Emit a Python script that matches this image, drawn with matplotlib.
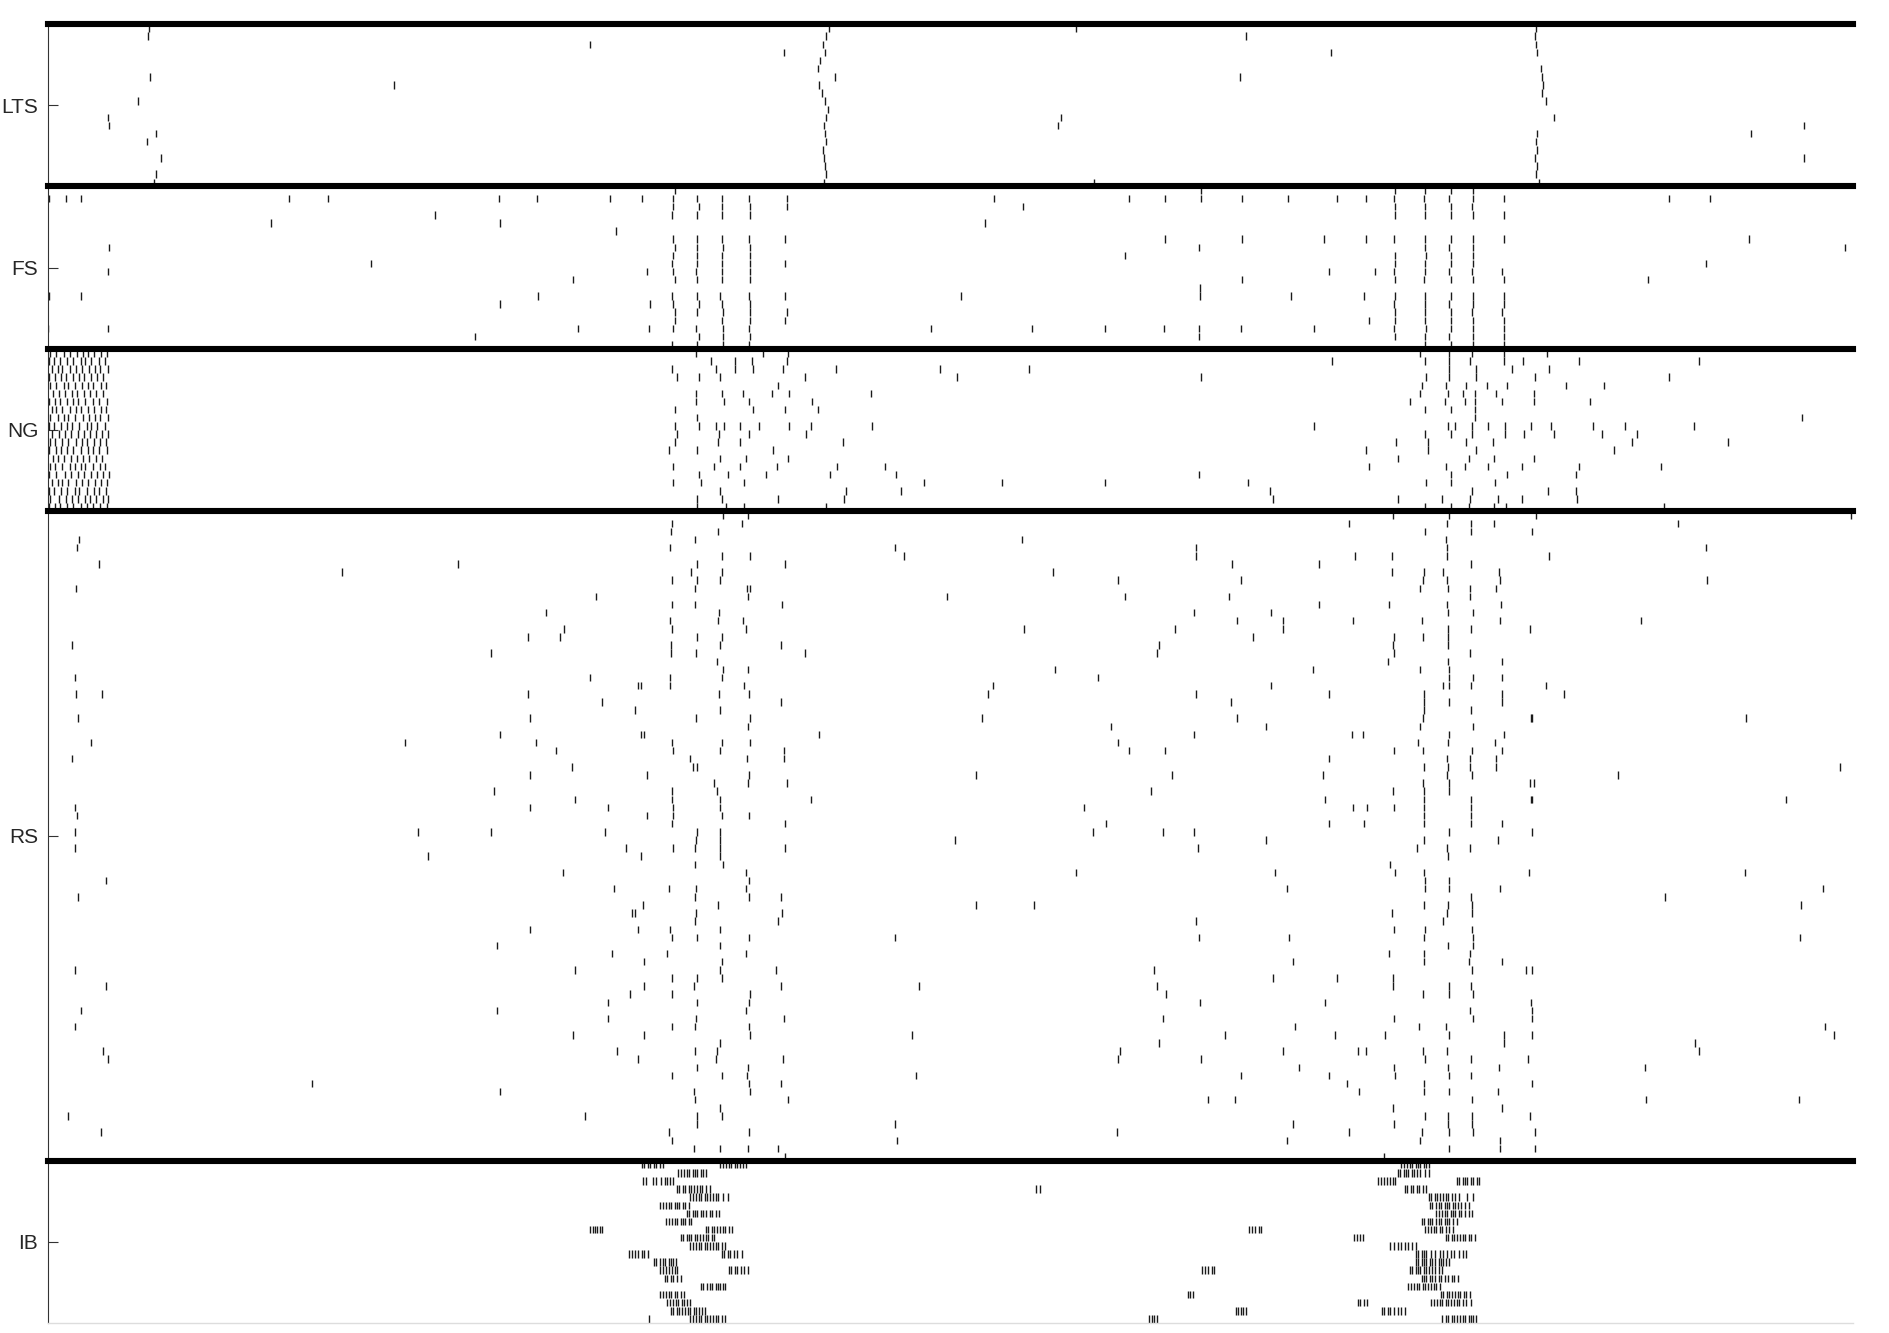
import numpy as np
import matplotlib
matplotlib.use('Agg')
import matplotlib.pyplot as plt

plt.rcParams['font.family'] = ['Liberation Sans', 'DejaVu Sans']

# populations, top to bottom, and their cell counts
GROUPS = ['LTS', 'FS', 'NG', 'RS', 'IB']
SIZES = [20, 20, 20, 80, 20]
T_END = 1498

# spikes as (time, cell) pairs
LTS_SPIKES = [
    (84, 0), (83, 1), (85, 6), (75, 9), (50, 11), (51, 12), (90, 13), (82, 14), (94, 16), (90, 18), (88, 19),
    (287, 7), (450, 2), (611, 3),
    (648, 0), (646, 1), (643, 2), (645, 3), (641, 4), (639, 5), (653, 6), (640, 7), (642, 8), (645, 9),
    (647, 10), (646, 11), (644, 12), (645, 13), (646, 14), (643, 15), (644, 16), (645, 17), (646, 18), (644, 19),
    (853, 0), (868, 19), (841, 11), (838, 12), (994, 1), (989, 6), (1065, 3),
    (1235, 0), (1234, 1), (1235, 2), (1236, 3), (1239, 5), (1240, 6), (1241, 7), (1240, 8), (1243, 9),
    (1250, 11), (1236, 13), (1235, 14), (1236, 15), (1234, 16), (1236, 17), (1235, 18), (1237, 19),
    (1413, 13), (1457, 12), (1457, 16),
]

FS_SPIKES = [
    (1, 1), (1, 13), (0, 17), (15, 1), (27, 1), (27, 13), (51, 7), (50, 10), (50, 17), (185, 4), (200, 1),
    (232, 1), (268, 9), (321, 3), (354, 18), (374, 1), (375, 4), (375, 14), (406, 1), (407, 13), (436, 11),
    (440, 17), (466, 1), (493, 1), (471, 5), (497, 10), (500, 14), (499, 17),
    # first volley
    (520, 0), (519, 1), (519, 2), (518, 3), (519, 6), (520, 7), (519, 8), (518, 9), (519, 10), (520, 11),
    (518, 13), (519, 14), (520, 15), (520, 16), (519, 17), (518, 19),
    (539, 1), (540, 2), (539, 3), (539, 6), (539, 7), (539, 8), (539, 9), (538, 10), (539, 11), (539, 13),
    (540, 14), (539, 15), (538, 17), (540, 18), (539, 19),
    (559, 1), (559, 2), (559, 3), (559, 6), (560, 7), (559, 8), (559, 9), (559, 10), (559, 11), (558, 13),
    (559, 14), (560, 15), (559, 16), (560, 17), (560, 18), (560, 19),
    (582, 1), (583, 2), (583, 3), (582, 6), (583, 7), (583, 8), (583, 9), (583, 10), (583, 11), (582, 13),
    (583, 14), (583, 15), (583, 16), (582, 17), (583, 18), (582, 19),
    (613, 1), (613, 2), (612, 6), (612, 9), (612, 13), (613, 15), (612, 16),
    # between volleys
    (778, 4), (785, 1), (809, 2), (758, 13), (733, 17), (817, 17), (877, 17), (897, 1), (894, 8), (927, 1),
    (927, 6), (926, 17), (957, 0), (957, 1), (955, 7), (956, 12), (956, 13), (955, 17), (955, 18), (991, 1),
    (991, 6), (991, 11), (990, 17), (1029, 1), (1032, 13), (1059, 6), (1063, 10), (1070, 1), (1051, 17),
    (1094, 1), (1094, 6), (1092, 13), (1096, 16), (1101, 10),
    # second volley
    (1118, 0), (1117, 1), (1118, 2), (1118, 3), (1117, 6), (1118, 8), (1118, 9), (1117, 10), (1118, 11),
    (1118, 13), (1117, 14), (1118, 15), (1118, 16), (1117, 17), (1118, 18),
    (1143, 0), (1142, 1), (1143, 2), (1143, 3), (1143, 6), (1143, 7), (1144, 8), (1143, 9), (1143, 10),
    (1142, 11), (1143, 13), (1143, 14), (1143, 15), (1143, 16), (1144, 17), (1143, 18), (1143, 19),
    (1164, 0), (1163, 1), (1164, 2), (1164, 3), (1164, 6), (1163, 7), (1164, 8), (1164, 9), (1163, 10),
    (1164, 11), (1164, 13), (1163, 14), (1164, 15), (1164, 16), (1164, 17), (1163, 18), (1164, 19),
    (1183, 0), (1183, 1), (1182, 2), (1183, 3), (1183, 6), (1183, 7), (1183, 8), (1183, 9), (1182, 10),
    (1183, 11), (1183, 13), (1183, 14), (1182, 15), (1183, 16), (1183, 17), (1183, 18), (1183, 19),
    (1208, 1), (1208, 3), (1208, 6), (1207, 10), (1208, 11), (1208, 13), (1208, 14), (1207, 15), (1208, 16),
    (1208, 17), (1208, 18), (1208, 19),
    # late
    (1345, 1), (1379, 1), (1376, 9), (1412, 6), (1328, 11), (1491, 7),
]

# NG onset: dense firing of every cell at the start, one list per cell
NG_ONSET = [
    [2, 7, 13, 18, 24, 29, 33, 38, 44, 49],
    [1, 5, 10, 16, 21, 27, 31, 36, 42, 47],
    [3, 8, 12, 18, 23, 28, 34, 39, 43, 50],
    [1, 6, 11, 15, 21, 26, 30, 36, 41, 46],
    [2, 7, 13, 17, 22, 28, 33, 37, 44, 48],
    [4, 9, 14, 20, 24, 30, 35, 40, 46],
    [1, 6, 10, 16, 21, 25, 31, 37, 42, 49],
    [3, 7, 12, 18, 23, 27, 33, 38, 44, 48],
    [2, 8, 13, 17, 22, 29, 34, 39, 43, 50],
    [1, 5, 11, 16, 20, 26, 32, 36, 41, 47],
    [3, 9, 14, 19, 25, 30, 35, 40, 45, 50],
    [2, 6, 12, 17, 23, 28, 32, 38, 43, 48],
    [1, 7, 11, 16, 21, 27, 33, 37, 42, 49],
    [4, 8, 13, 19, 24, 29, 34, 40, 45],
    [2, 6, 12, 18, 22, 27, 31, 37, 43, 47],
    [1, 7, 14, 19, 25, 30, 36, 41, 46, 51],
    [3, 8, 12, 17, 23, 28, 33, 39, 44, 49],
    [1, 5, 11, 16, 22, 26, 32, 38, 42, 48],
    [2, 9, 15, 20, 25, 31, 35, 40, 46, 50],
    [1, 6, 10, 16, 21, 27, 32, 37, 43, 49],
]

NG_SPIKES = [
    (538, 0), (550, 1), (570, 1), (584, 1), (593, 0), (613, 1), (614, 0),
    (518, 2), (522, 3), (540, 3), (554, 2), (558, 3), (570, 2), (585, 2), (610, 2), (628, 3), (654, 2),
    (606, 4), (538, 5), (538, 6), (559, 5), (561, 6), (577, 5), (582, 6), (601, 5), (615, 5), (634, 6),
    (585, 7), (520, 7), (612, 7), (639, 7), (539, 8),
    (520, 9), (540, 9), (554, 9), (561, 9), (574, 9), (590, 9), (615, 9), (633, 9),
    (522, 10), (557, 10), (582, 10), (629, 10), (520, 11), (556, 11), (574, 11),
    (515, 12), (539, 12), (602, 12), (558, 13), (579, 13), (614, 13),
    (519, 14), (553, 14), (574, 14), (605, 14), (655, 14), (540, 15), (564, 15), (596, 15), (649, 15),
    (519, 16), (542, 16), (578, 16), (558, 17), (539, 18), (559, 18), (606, 18),
    (563, 19), (578, 19), (646, 19), (539, 19),
    (740, 2), (814, 2), (754, 3), (683, 5), (684, 9), (660, 11), (695, 14), (704, 15), (727, 16),
    (792, 16), (877, 16), (662, 17), (708, 17), (661, 18),
    (957, 3), (955, 15), (996, 16), (1014, 17), (1017, 18), (1051, 9), (1066, 1),
    (1094, 12), (1096, 14),
    (1139, 0), (1163, 0), (1182, 0), (1143, 1), (1163, 1), (1163, 2), (1163, 3), (1180, 1), (1185, 2),
    (1144, 3), (1185, 3), (1140, 4), (1160, 4), (1177, 4), (1139, 5), (1162, 5), (1174, 5), (1184, 5),
    (1130, 6), (1159, 6), (1176, 6), (1184, 6), (1143, 7), (1164, 7), (1184, 7), (1184, 8),
    (1162, 9), (1168, 9), (1182, 9), (1143, 10), (1164, 10), (1182, 10), (1119, 11), (1145, 11),
    (1145, 12), (1177, 11), (1185, 12), (1120, 13), (1179, 13), (1160, 14), (1176, 14),
    (1164, 15), (1144, 16), (1164, 16), (1182, 17), (1120, 18), (1157, 18), (1180, 18),
    (1143, 19), (1164, 19), (1179, 19),
    (1208, 0), (1244, 0), (1208, 1), (1224, 1), (1271, 1), (1370, 1), (1215, 2), (1246, 2), (1234, 3),
    (1345, 3), (1194, 4), (1211, 4), (1260, 4), (1291, 4), (1202, 5), (1233, 5), (1207, 6), (1233, 6),
    (1280, 6), (1456, 8), (1195, 9), (1209, 9), (1231, 9), (1247, 9), (1282, 9), (1309, 9), (1366, 9),
    (1209, 10), (1225, 10), (1250, 10), (1290, 10), (1319, 10), (1199, 11), (1315, 11), (1394, 11),
    (1300, 12), (1200, 13), (1233, 13), (1195, 14), (1223, 14), (1271, 14), (1339, 14), (1211, 15),
    (1268, 15), (1201, 16), (1245, 17), (1268, 17), (1203, 18), (1223, 18), (1269, 18), (1200, 19),
    (1210, 19), (1341, 19),
]

RS_SPIKES = [
    (26, 3), (24, 4), (42, 6), (23, 9), (20, 16), (22, 20), (23, 22), (45, 22), (25, 25), (36, 28), (20, 30),
    (22, 36), (24, 37), (22, 39), (22, 41), (48, 45), (25, 47), (22, 56), (48, 58), (27, 61), (22, 63),
    (46, 66), (50, 67), (17, 74), (44, 76),
    (244, 7), (340, 6), (219, 70), (296, 28), (307, 39), (315, 42), (368, 17), (370, 34), (368, 39),
    (373, 53), (373, 61), (375, 71), (375, 27),
    (398, 15), (398, 22), (400, 25), (405, 28), (400, 32), (400, 36), (400, 51), (413, 12), (422, 29),
    (425, 15), (428, 14), (427, 44), (435, 31), (437, 35), (437, 56), (436, 64), (446, 74), (450, 20),
    (455, 10), (460, 23), (462, 39), (465, 36), (465, 60), (465, 62), (470, 46), (468, 54), (472, 66),
    (480, 41), (485, 49), (483, 59), (490, 21), (490, 51), (492, 27), (492, 42),
    # first volley
    (518, 1), (517, 2), (556, 2), (576, 1), (581, 0), (560, 0), (537, 3), (516, 4), (559, 5), (583, 5),
    (539, 6), (612, 6), (534, 7), (559, 7), (518, 8), (539, 8), (558, 8), (537, 9), (580, 9), (583, 9),
    (581, 10), (518, 11), (537, 11), (609, 11), (557, 12), (516, 13), (556, 13), (577, 13), (518, 14),
    (579, 14), (539, 15), (559, 15), (517, 16), (558, 16), (608, 16), (517, 17), (538, 17), (555, 18),
    (560, 19), (581, 19), (516, 20), (559, 20), (492, 21), (516, 21), (578, 21), (557, 22), (582, 22),
    (608, 23), (487, 24), (558, 24), (538, 25), (583, 25), (581, 26), (495, 27), (518, 28), (559, 28),
    (583, 28), (611, 29), (519, 29), (558, 29), (533, 30), (580, 30), (611, 30), (539, 31), (535, 31),
    (497, 32), (582, 32), (581, 33), (613, 33), (553, 33), (555, 34), (518, 34), (518, 35), (558, 35),
    (519, 36), (558, 36), (497, 37), (519, 37), (559, 37), (582, 37), (518, 38), (612, 38), (539, 39),
    (558, 39), (538, 40), (558, 40), (519, 41), (537, 41), (558, 41), (612, 41), (558, 42), (537, 43),
    (560, 43), (579, 44), (582, 45), (515, 46), (538, 46), (579, 46), (537, 47), (582, 47), (608, 47),
    (494, 48), (556, 48), (487, 49), (538, 49), (609, 49), (537, 50), (606, 50), (516, 51), (558, 51),
    (518, 52), (539, 52), (558, 53), (582, 52), (514, 54), (579, 54), (495, 55), (559, 55), (558, 56),
    (604, 56), (518, 57), (539, 57), (559, 57), (495, 58), (536, 58), (608, 58), (518, 59), (583, 59),
    (539, 60), (582, 60), (579, 61), (538, 62), (611, 62), (518, 63), (537, 63), (582, 63), (495, 64),
    (583, 64), (558, 65), (537, 66), (555, 66), (490, 67), (554, 67), (610, 67), (539, 68), (581, 68),
    (518, 69), (559, 69), (580, 69), (582, 70), (608, 70), (536, 71), (583, 71), (537, 72), (614, 72),
    (558, 73), (539, 74), (559, 74), (539, 75), (515, 76), (582, 76), (518, 77), (536, 78), (558, 78),
    (581, 78), (606, 78), (612, 79),
    # between volleys
    (628, 17), (640, 27), (633, 35), (703, 4), (710, 5), (746, 10), (770, 32), (780, 22), (784, 21),
    (775, 25), (753, 40), (770, 48), (703, 52), (723, 58), (717, 64), (720, 69), (703, 75), (705, 77),
    (808, 3), (810, 14), (818, 48), (834, 7), (836, 19), (853, 44), (860, 36), (867, 39), (871, 20),
    (878, 38), (882, 26), (888, 28), (888, 8), (894, 10), (897, 29), (920, 17), (922, 16), (915, 34),
    (918, 56), (920, 58), (925, 39), (928, 59), (925, 62), (890, 66), (888, 67), (887, 76), (922, 65),
    (927, 29), (933, 32), (935, 14), (953, 5), (953, 4), (951, 12), (953, 22), (951, 27), (951, 39),
    (954, 41), (953, 50), (955, 52), (956, 60), (957, 67), (963, 72), (983, 6), (990, 8), (982, 23),
    (987, 25), (1011, 26), (987, 13), (980, 10), (1000, 15), (1015, 12), (1025, 13), (1025, 14),
    (1015, 21), (1018, 44), (1028, 46), (1011, 40), (1017, 57), (1030, 52), (1033, 55), (1035, 63),
    (1025, 66), (1038, 68), (990, 69), (977, 64), (985, 72), (1033, 75), (1028, 77), (1055, 6),
    (1055, 11), (1050, 19), (1063, 22), (1058, 32), (1060, 35), (1063, 30), (1063, 38), (1080, 1),
    (1085, 5), (1083, 13), (1082, 27), (1083, 36), (1095, 36), (1092, 38), (1091, 27), (1094, 66),
    (1087, 66), (1078, 70), (1088, 71), (1080, 76), (1068, 64), (1063, 69), (1070, 57), (1060, 60),
    # second volley
    (1116, 0), (1163, 0), (1235, 0), (1200, 1), (1161, 1), (1181, 1), (1143, 2), (1181, 2), (1160, 3),
    (1161, 4), (1115, 5), (1161, 5), (1181, 6), (1115, 7), (1142, 7), (1158, 7), (1204, 7), (1141, 8),
    (1161, 8), (1205, 8), (1139, 9), (1162, 9), (1180, 9), (1202, 9), (1180, 10), (1113, 11), (1161, 11),
    (1206, 11), (1162, 12), (1183, 12), (1140, 13), (1205, 13), (1162, 14), (1181, 14), (1117, 15),
    (1141, 15), (1162, 15), (1116, 16), (1162, 16), (1117, 17), (1180, 17), (1112, 18), (1162, 18),
    (1207, 18), (1139, 19), (1163, 19), (1163, 20), (1183, 20), (1207, 20), (1158, 21), (1163, 21),
    (1181, 21), (1142, 22), (1207, 22), (1163, 23), (1142, 23), (1207, 23), (1181, 24), (1142, 24),
    (1141, 25), (1231, 25), (1139, 26), (1183, 26), (1163, 27), (1208, 27), (1137, 28), (1162, 28),
    (1201, 28), (1117, 29), (1141, 29), (1182, 29), (1207, 29), (1161, 30), (1180, 30), (1202, 30),
    (1142, 31), (1162, 31), (1180, 31), (1202, 31), (1161, 32), (1182, 32), (1141, 33), (1163, 33),
    (1233, 33), (1116, 34), (1142, 34), (1163, 34), (1142, 35), (1181, 35), (1231, 35), (1117, 36),
    (1142, 36), (1181, 36), (1142, 37), (1181, 37), (1142, 38), (1181, 38), (1207, 38), (1163, 39),
    (1142, 40), (1203, 40), (1136, 41), (1161, 41), (1180, 41), (1162, 42), (1114, 43), (1118, 44),
    (1142, 44), (1229, 44), (1143, 45), (1163, 45), (1143, 46), (1205, 46), (1163, 46), (1181, 47),
    (1142, 48), (1182, 48), (1162, 48), (1115, 49), (1182, 49), (1161, 49), (1158, 50), (1117, 51),
    (1143, 51), (1182, 51), (1142, 52), (1183, 52), (1162, 53), (1183, 53), (1113, 54), (1142, 54),
    (1180, 54), (1142, 55), (1179, 55), (1207, 55), (1182, 56), (1227, 56), (1116, 57), (1116, 58),
    (1163, 58), (1181, 58), (1141, 59), (1163, 59), (1183, 59), (1231, 60), (1180, 61), (1183, 62),
    (1117, 62), (1232, 62), (1138, 63), (1160, 63), (1110, 64), (1163, 64), (1208, 64), (1208, 65),
    (1141, 66), (1161, 66), (1143, 67), (1181, 67), (1228, 67), (1117, 68), (1162, 68), (1204, 68),
    (1118, 69), (1163, 69), (1181, 69), (1142, 70), (1163, 71), (1203, 71), (1142, 71), (1182, 72),
    (1207, 73), (1116, 73), (1143, 74), (1162, 74), (1182, 74), (1230, 74), (1117, 75), (1162, 75),
    (1182, 75), (1140, 76), (1163, 76), (1183, 76), (1139, 77), (1205, 77), (1163, 78), (1205, 78),
    (1234, 78), (1109, 79),
    # late
    (1232, 2), (1246, 5), (1230, 14), (1232, 25), (1230, 33), (1232, 35), (1232, 39), (1232, 56),
    (1232, 61), (1232, 64), (1232, 70), (1234, 76), (1243, 21), (1258, 22), (1303, 32), (1322, 13),
    (1325, 68), (1326, 72), (1342, 47), (1353, 1), (1367, 65), (1370, 66), (1376, 4), (1377, 8),
    (1409, 25), (1408, 44), (1442, 35), (1455, 48), (1454, 52), (1453, 72), (1473, 46), (1487, 31),
    (1475, 63), (1482, 64), (1496, 0),
]

# IB bursts, one list of spike times per cell
IB_TRAINS = [
    [493, 495, 498, 500, 503, 505, 508, 510, 558, 560, 563, 565, 567, 570, 572, 574, 577, 579,
     1123, 1125, 1128, 1130, 1132, 1135, 1137, 1139, 1142, 1144, 1146],
    [523, 525, 528, 530, 532, 535, 537, 539, 542, 544, 546,
     1120, 1122, 1125, 1127, 1129, 1132, 1134, 1136, 1139, 1143, 1146],
    [494, 496, 502, 505, 509, 512, 514, 516, 519, 1104, 1106, 1109, 1111, 1114, 1116, 1118,
     1169, 1171, 1174, 1176, 1178, 1181, 1183, 1186, 1188],
    [522, 524, 527, 529, 532, 534, 536, 539, 541, 543, 546, 549, 820, 823,
     1126, 1128, 1131, 1133, 1136, 1138, 1141, 1144],
    [533, 535, 538, 540, 542, 545, 547, 549, 552, 554, 556, 560, 564,
     1146, 1148, 1151, 1153, 1155, 1158, 1160, 1162, 1165, 1168, 1171, 1178, 1183],
    [508, 510, 513, 515, 517, 520, 522, 524, 527, 529, 532,
     1147, 1149, 1152, 1154, 1156, 1159, 1161, 1163, 1166, 1168, 1170, 1173, 1176, 1179],
    [530, 532, 535, 537, 539, 542, 544, 546, 549, 551, 554, 557,
     1152, 1154, 1157, 1159, 1161, 1164, 1166, 1168, 1171, 1173, 1176, 1179, 1182],
    [513, 515, 518, 520, 522, 525, 527, 529, 532, 534,
     1140, 1142, 1145, 1147, 1149, 1152, 1154, 1156, 1159, 1161, 1163, 1166, 1169],
    [450, 452, 454, 456, 458, 460, 546, 548, 551, 553, 555, 558, 560, 562, 565, 568,
     997, 999, 1002, 1005, 1007, 1143, 1145, 1148, 1150, 1152, 1155, 1157, 1160, 1163, 1166],
    [525, 527, 530, 532, 534, 537, 539, 541, 544, 546, 548, 551, 553, 1084, 1086, 1089, 1091,
     1160, 1162, 1165, 1167, 1169, 1172, 1174, 1176, 1179, 1181, 1184],
    [533, 535, 538, 540, 542, 545, 547, 549, 552, 554, 556, 559, 562,
     1114, 1117, 1120, 1123, 1126, 1129, 1132, 1135],
    [482, 485, 487, 490, 493, 495, 498, 559, 561, 564, 566, 569, 572, 576,
     1135, 1137, 1140, 1142, 1144, 1148, 1151, 1155, 1158, 1161, 1164, 1167, 1171, 1174, 1177],
    [503, 505, 508, 510, 512, 515, 517, 519, 521,
     1135, 1137, 1140, 1142, 1144, 1147, 1149, 1151, 1154, 1156, 1158, 1160, 1163],
    [508, 510, 513, 515, 518, 520, 522, 565, 567, 570, 572, 575, 578, 581, 958, 960, 963, 966, 968,
     1130, 1132, 1135, 1137, 1139, 1142, 1144, 1146, 1149, 1151, 1154, 1157],
    [512, 514, 517, 519, 522, 525,
     1140, 1142, 1144, 1147, 1149, 1151, 1154, 1156, 1159, 1162, 1165, 1167, 1170],
    [542, 544, 547, 549, 551, 554, 556, 558, 560, 562,
     1129, 1131, 1134, 1136, 1138, 1141, 1143, 1145, 1148, 1150, 1152, 1155],
    [508, 510, 513, 515, 517, 520, 522, 525, 528, 946, 948, 950,
     1156, 1158, 1161, 1163, 1165, 1168, 1170, 1172, 1175, 1177, 1180],
    [514, 516, 519, 521, 523, 526, 528, 530, 533, 1087, 1089, 1092, 1095,
     1148, 1150, 1153, 1155, 1157, 1160, 1162, 1164, 1167, 1169, 1171, 1174, 1177, 1181],
    [517, 519, 522, 524, 526, 529, 531, 533, 536, 538, 540, 543, 545, 986, 988, 990, 992, 994,
     1107, 1109, 1112, 1114, 1117, 1120, 1123, 1126],
    [499, 533, 535, 538, 540, 542, 545, 547, 549, 552, 554, 556, 559, 562, 914, 916, 918, 920,
     1157, 1160, 1162, 1165, 1167, 1169, 1172, 1174, 1176, 1179, 1181, 1183, 1185],
]


def trains_to_pairs(trains):
    return [(t, cell) for cell, times in enumerate(trains) for t in times]


offsets = np.concatenate([[0], np.cumsum(SIZES)[:-1]])
n_total = sum(SIZES)

group_spikes = {
    'LTS': LTS_SPIKES,
    'FS': FS_SPIKES,
    'NG': NG_SPIKES + trains_to_pairs(NG_ONSET),
    'RS': RS_SPIKES,
    'IB': trains_to_pairs(IB_TRAINS),
}

fig = plt.figure(figsize=(18.89, 13.33), dpi=100)
ax = fig.add_axes([48 / 1889, 10 / 1333, 1805 / 1889, 1299 / 1333])

for name, off in zip(GROUPS, offsets):
    sp = np.array(group_spikes[name], dtype=float)
    y = off + sp[:, 1]
    ax.vlines(sp[:, 0], y + 0.04, y + 0.96, colors='#1a1a1a', linewidth=1.0)

# thick separators between populations
for b in offsets:
    ax.axhline(b, color='black', linewidth=4.4, clip_on=False, zorder=3)

ax.set_xlim(0, T_END)
ax.set_ylim(n_total, 0)
ax.set_xticks([])
ax.set_yticks(offsets + np.array(SIZES) / 2)
ax.set_yticklabels(GROUPS)
ax.tick_params(axis='y', direction='in', length=7, width=0.8, labelsize=15, pad=7,
               color='#333333', labelcolor='#262626')
ax.spines['top'].set_visible(False)
ax.spines['right'].set_visible(False)
ax.spines['left'].set_color('#333333')
ax.spines['left'].set_linewidth(0.8)
ax.spines['bottom'].set_color('#dddddd')
ax.spines['bottom'].set_linewidth(1.0)

fig.savefig('out.png', dpi=100)
